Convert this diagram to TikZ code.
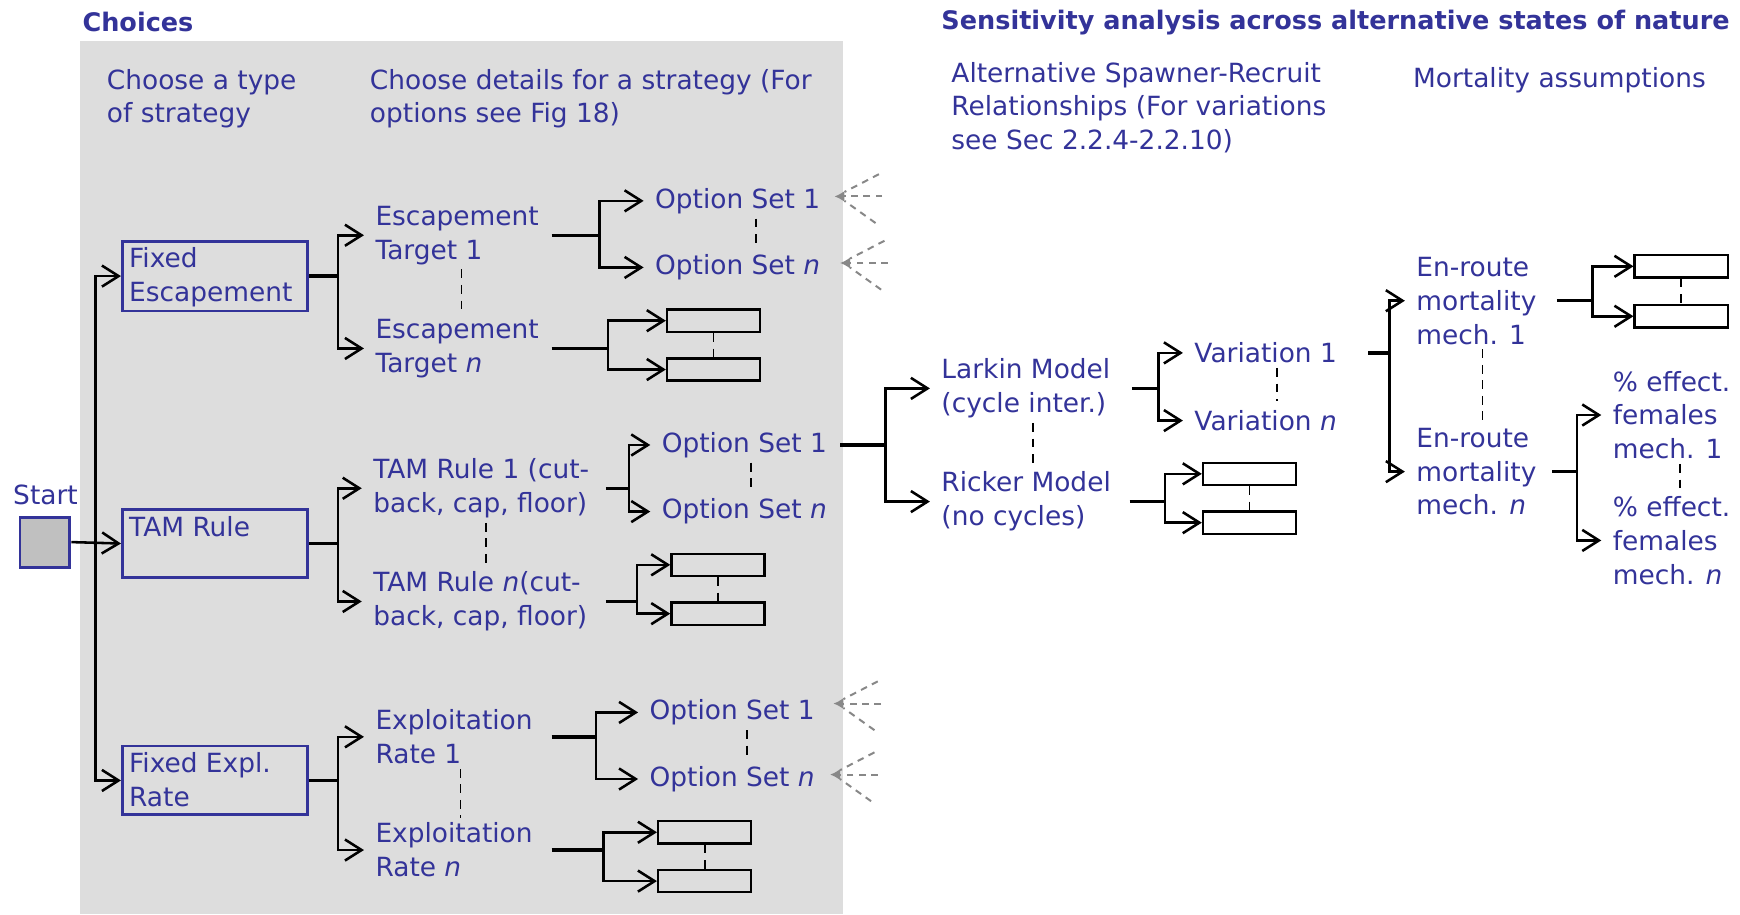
\documentclass[tikz,border=0pt]{standalone}
\usepackage{fontspec}
\setmainfont{DejaVu Sans}
\usetikzlibrary{arrows.meta,calc}
\definecolor{tb}{HTML}{333399}
\definecolor{bgg}{HTML}{DDDDDD}
\definecolor{sqg}{HTML}{C0C0C0}
\definecolor{fg}{HTML}{888888}
\newcommand\forkit[4]{%
  \draw[stub] (#1) -- ++(#2,0) coordinate (fk);
  \draw[arr] (fk) |- (#3.west);
  \draw[arr] (fk) |- (#4.west);}
\newcommand\fanin[2]{%
  \draw[fan,-{Latex[length=4.5pt,width=5pt]}] ({#1+43},#2) -- (#1,#2);
  \draw[fan] ({#1+40},{#2-20}) -- ({#1+9},{#2-4});
  \draw[fan] ({#1+37},{#2+24}) -- ({#1+9},{#2+4});}
\begin{document}
\begin{tikzpicture}[x=0.5pt,y=-0.5pt,
  txt/.style={text=tb, font=\fontsize{11.9}{15.25}\selectfont, align=left, inner xsep=5pt, inner ysep=0pt, anchor=west},
  hdr/.style={text=tb, font=\fontsize{11.9}{15.25}\selectfont, align=left, inner sep=0pt, anchor=west},
  ttl/.style={text=tb, font=\bfseries\fontsize{11.5}{14}\selectfont, inner sep=0pt, anchor=west},
  sbox/.style={draw=tb, line width=1.3pt, anchor=north west, inner sep=0pt, minimum width=83.5pt},
  ebox/.style={draw=black, line width=1.05pt, minimum width=42pt, minimum height=10pt, inner sep=0pt, anchor=west},
  arr/.style={draw=black, line width=1.15pt, -{Straight Barb[length=7.5pt,width=9.5pt]}},
  stub/.style={draw=black, line width=1.5pt},
  dotl/.style={draw=black, line width=0.75pt, dash pattern=on 4pt off 3pt},
  fan/.style={draw=fg, line width=0.9pt, dash pattern=on 3pt off 2.5pt},
]
\useasboundingbox (0,0) rectangle (1568,824);
\fill[bgg] (72,37) rectangle (760,824);

% titles and headers
\node[ttl] (ttl1) at (74,20) {Choices};
\node[ttl] (ttl2) at (848,20) {Sensitivity analysis across alternative states of nature};
\node[hdr] (h1) at (96,89) {Choose a type\\of strategy};
\node[hdr] (h2) at (333,89) {Choose details for a strategy (For\\options see Fig 18)};
\node[hdr] (h3) at (857,97) {Alternative Spawner-Recruit\\Relationships (For variations\\see Sec 2.2.4-2.2.10)};
\node[hdr] (h4) at (1273,72) {Mortality assumptions};

% start
\node[draw=tb, fill=sqg, line width=1.3pt, minimum size=22.5pt, inner sep=0pt] (start) at (40.5,488.5) {};
\node[hdr, anchor=base] (startl) at (41,455) {Start};

% strategy boxes
\node[sbox, minimum height=31.5pt] (fe) at (109,216) {};
\node[hdr, anchor=north west] (fet) at (116,223) {Fixed\\Escapement};
\node[sbox, minimum height=30.5pt] (tam) at (109,458) {};
\node[hdr, anchor=north west] (tamt) at (116,465) {TAM Rule};
\node[sbox, minimum height=31pt] (fer) at (109,671) {};
\node[hdr, anchor=north west] (fert) at (116,678) {Fixed Expl.\\Rate};

% detail nodes
\node[txt] (esc1) at (328,212) {Escapement\\Target 1};
\node[txt] (escn) at (328,314) {Escapement\\Target \textit{n}};
\node[txt] (os1a) at (580,181) {Option Set 1};
\node[txt] (osna) at (580,241) {Option Set \textit{n}};
\node[txt] (tam1) at (326,440) {TAM Rule 1 (cut-\\back, cap, floor)};
\node[txt] (tamn) at (326,542) {TAM Rule \textit{n}(cut-\\back, cap, floor)};
\node[txt] (os1b) at (586,401) {Option Set 1};
\node[txt] (osnb) at (586,461) {Option Set \textit{n}};
\node[txt] (er1) at (328,664) {Exploitation\\Rate 1};
\node[txt] (ern) at (328,766) {Exploitation\\Rate \textit{n}};
\node[txt] (os1c) at (575,642) {Option Set 1};
\node[txt] (osnc) at (575,702) {Option Set \textit{n}};

% sensitivity nodes
\node[txt] (larkin) at (838,350) {Larkin Model\\(cycle inter.)};
\node[txt] (ricker) at (838,452) {Ricker Model\\(no cycles)};
\node[txt] (var1) at (1066,318) {Variation 1};
\node[txt] (varn) at (1066,379) {Variation \textit{n}};
\node[txt] (en1) at (1266,271) {En-route\\mortality\\mech. 1};
\node[txt] (enn) at (1266,425) {En-route\\mortality\\mech. \textit{n}};
\node[txt] (pe1) at (1443,374) {\% effect.\\females\\mech. 1};
\node[txt] (pen) at (1443,487) {\% effect.\\females\\mech. \textit{n}};

% empty boxes
\node[ebox] (eb1) at (600,289) {};
\node[ebox] (eb2) at (600,333) {};
\node[ebox] (eb3) at (604,509) {};
\node[ebox] (eb4) at (604,553) {};
\node[ebox] (eb5) at (592,750) {};
\node[ebox] (eb6) at (592,794) {};
\node[ebox] (eb7) at (1083,427) {};
\node[ebox] (eb8) at (1083,471) {};
\node[ebox] (eb9) at (1472,240) {};
\node[ebox] (eb10) at (1472,285) {};

% trunk
\draw[arr] (start.east) -- (tam.west);
\draw[arr] (86,0 |- start.east) |- (fe.west);
\draw[arr] (86,0 |- start.east) |- (fer.west);

% forks
\forkit{fe.east}{26}{esc1}{escn}
\forkit{tam.east}{26}{tam1}{tamn}
\forkit{fer.east}{26}{er1}{ern}
\forkit{497,0 |- esc1.west}{43}{os1a}{osna}
\forkit{497,0 |- escn.west}{51}{eb1}{eb2}
\forkit{546,0 |- tam1.west}{21}{os1b}{osnb}
\forkit{546,0 |- tamn.west}{28}{eb3}{eb4}
\forkit{497,0 |- er1.west}{40}{os1c}{osnc}
\forkit{497,0 |- ern.west}{47}{eb5}{eb6}
\forkit{757,0 |- os1b.west}{41}{larkin}{ricker}
\forkit{1020,0 |- larkin.west}{24}{var1}{varn}
\forkit{1018,0 |- ricker.west}{32}{eb7}{eb8}
\forkit{1233,0 |- var1.west}{19}{en1}{enn}
\forkit{1403,0 |- en1.west}{32}{eb9}{eb10}
\forkit{1399,0 |- enn.west}{22}{pe1}{pen}

% dashed "..." links
\draw[dotl, shorten <=2pt, shorten >=2pt] (416,0 |- esc1.south) -- (416,0 |- escn.north);
\draw[dotl, shorten <=2pt, shorten >=4pt] (681,0 |- os1a.south) -- (681,0 |- osna.north);
\draw[dotl, shorten <=2pt, shorten >=2pt] (438,0 |- tam1.south) -- (438,0 |- tamn.north);
\draw[dotl, shorten <=2pt, shorten >=4pt] (677,0 |- os1b.south) -- (677,0 |- osnb.north);
\draw[dotl, shorten <=2pt, shorten >=2pt] (415,0 |- er1.south) -- (415,0 |- ern.north);
\draw[dotl, shorten <=2pt, shorten >=4pt] (673,0 |- os1c.south) -- (673,0 |- osnc.north);
\draw[dotl, shorten <=2pt, shorten >=2pt] (931,0 |- larkin.south) -- (931,0 |- ricker.north);
\draw[dotl, shorten <=2pt, shorten >=4pt] (1151,0 |- var1.south) -- (1151,0 |- varn.north);
\draw[dotl, shorten <=2pt, shorten >=2pt] (1336,0 |- en1.south) -- (1336,0 |- enn.north);
\draw[dotl, shorten <=2pt, shorten >=2pt] (1514,0 |- pe1.south) -- (1514,0 |- pen.north);
\draw[dotl] (eb1.south) -- (eb2.north);
\draw[dotl] (eb3.south) -- (eb4.north);
\draw[dotl] (eb5.south) -- (eb6.north);
\draw[dotl] (eb7.south) -- (eb8.north);
\draw[dotl] (eb9.south) -- (eb10.north);

% incoming grey dashed fans
\fanin{752}{177}
\fanin{757}{237}
\fanin{751}{634}
\fanin{748}{698}
\end{tikzpicture}
\end{document}
